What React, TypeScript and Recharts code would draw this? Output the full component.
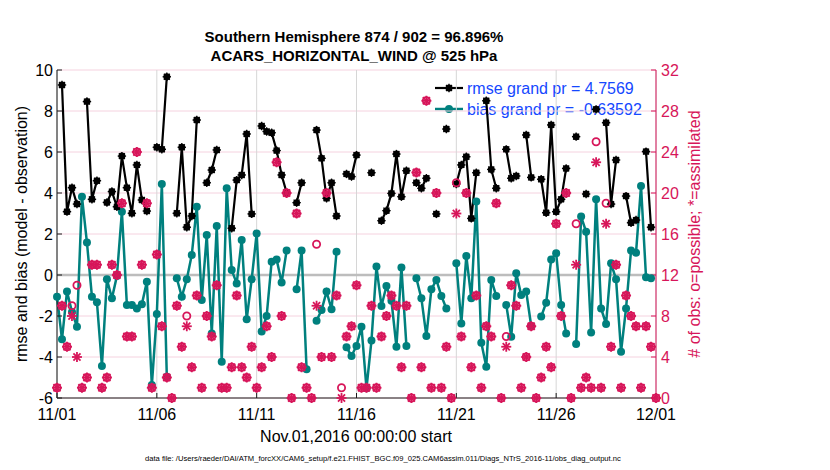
import { ComposedChart, Line, XAxis, YAxis, CartesianGrid, ReferenceLine } from "recharts"

// 6-hourly bins, Nov 01 00Z .. Dec 01 00Z (121 bins)
const dayTicks = [0, 5, 10, 15, 20, 25, 30]
const dayTickLabels = ["11/01", "11/06", "11/11", "11/16", "11/21", "11/26", "12/01"]
const leftTicks = [-6, -4, -2, 0, 2, 4, 6, 8, 10]
const rightTicks = [0, 4, 8, 12, 16, 20, 24, 28, 32]

const rmse: (number | null)[] = [
  null, 9.27, 3.09, 4.26, 3.46, null, 8.46, 3.69, 4.6, null,
  3.54, 4.07, 3.33, 5.8, 4.26, 3.01, 5.37, 3.66, 3.12, null,
  6.23, 6.13, 9.67, null, 3.01, 6.23, 2.33, 2.88, 7.56, null,
  4.5, 5.12, 6.1, null, null, 2.28, 4.63, 4.88, 6.88, 2.98,
  null, 7.27, 7.0, 6.94, 6.07, 4.88, 4.02, null, 3.53, 4.5,
  null, null, 7.07, 5.69, 3.74, 4.5, 2.88, null, 4.93, 4.8,
  5.85, null, null, 4.99, null, 2.65, 3.14, 3.98, 5.9, 3.82,
  5.09, null, 4.5, 4.23, 4.72, null, 2.98, null, 7.12, null,
  4.44, 5.37, 5.77, 2.76, 4.99, null, 8.5, 5.15, 4.23, null,
  6.13, 4.72, 4.83, null, 6.83, 4.76, null, 4.67, 3.04, 7.32,
  3.09, 3.69, 5.2, null, 6.75, null, 3.95, null, 8.08, null,
  7.43, 3.46, 5.61, null, 3.85, 2.55, 2.68, null, 6.02, 2.33,
  null,
]

const bias: (number | null)[] = [
  -1.06, -3.14, -0.81, -1.8, -2.52, 3.82, 1.58, -1.06, -1.33, -4.44,
  -0.21, -1.14, -0.05, 3.09, -1.46, -1.46, -1.63, -1.43, -0.33, -5.37,
  -1.9, 4.44, -4.96, null, -0.16, -1.06, -0.21, 0.98, 3.33, -1.22,
  1.95, -2.85, 2.39, -4.23, 4.23, 0.24, -0.41, 1.71, -2.16, -0.21,
  2.03, -2.76, -2.0, 0.65, 0.76, -0.37, 1.19, null, -0.7, 1.19,
  -4.6, null, -2.23, -1.71, -0.81, -1.67, 1.14, null, -3.53, -3.95,
  -3.46, -2.52, -5.53, -3.2, 0.41, -1.51, -0.54, -1.25, -3.5, 0.37,
  -3.46, null, -0.16, -1.14, -2.98, -0.7, -0.24, -1.02, -1.63, null,
  0.57, -2.36, 0.93, -1.14, 3.58, -3.3, -4.47, -0.24, -1.02, null,
  -1.46, -3.01, 0.08, -0.98, -0.81, -2.49, null, -2.03, -1.35, 0.76,
  1.06, -1.46, -2.85, null, -3.37, 2.85, 2.11, -2.81, 3.69, -1.63,
  -2.39, 0.57, -0.21, -3.74, -1.63, 1.19, 1.09, 4.34, -0.11, -0.16,
  null,
]

const nAssim = [
  1, 9, 5, 8, 4, 1, 2, 13, 13, 1,
  2, 13, 12, 19, 6, 6, 24, 13, 19, 1,
  14, 7, 2, 0, 9, 5, 7, 3, 10, 1,
  8, 6, 11, 1, 1, 3, 10, 3, 2, 5,
  1, 3, 7, 4, 23, 8, 20, 0, 18, 3,
  1, 0, 9, 4, 20, 4, 10, 0, 6, 7,
  11, 1, 1, 9, 1, 6, 8, 10, 9, 3,
  9, 0, 22, 3, 29, 1, 20, 1, 5, 0,
  18, 6, 20, 3, 10, 1, 7, 6, 19, 0,
  5, 11, 9, 1, 4, 7, 0, 2, 5, 3,
  17, 8, 20, 0, 13, 1, 2, 1, 23, 1,
  17, 5, 13, 1, 10, 8, 7, 1, 7, 5,
  0,
]

const nPossible = [
  1, 9, 5, 9, 11, 1, 2, 13, 13, 1,
  2, 13, 12, 19, 6, 6, 24, 13, 19, 1,
  14, 7, 2, 0, 9, 5, 8, 3, 10, 1,
  8, 6, 11, 1, 1, 3, 10, 3, 2, 5,
  1, 3, 7, 4, 23, 8, 20, 0, 18, 3,
  1, 0, 15, 4, 20, 4, 10, 1, 6, 7,
  11, 1, 1, 9, 1, 6, 8, 10, 9, 3,
  9, 0, 22, 3, 29, 1, 20, 1, 5, 0,
  21, 6, 20, 3, 10, 1, 7, 6, 19, 0,
  6, 11, 9, 1, 4, 7, 0, 2, 5, 3,
  17, 8, 20, 0, 17, 1, 2, 1, 25, 1,
  19, 5, 13, 1, 10, 8, 7, 1, 7, 5,
  0,
]

const data = rmse.map((_, i) => ({
  day: i / 4,
  rmse: rmse[i],
  bias: bias[i],
  assim: nAssim[i],
  possible: nPossible[i],
}))

const TEAL = "#00807e"
const CRIMSON = "#d7165a"
const BLUE = "#1548ff"
const AXIS = "#1a1a1a"
const FONT = "'Liberation Sans', Arial, Helvetica, sans-serif"

function arms(cx: number, cy: number, len: number, color: string, w: number) {
  const d = len * 0.7071
  return (
    <>
      <line x1={cx - len} y1={cy} x2={cx + len} y2={cy} stroke={color} strokeWidth={w} />
      <line x1={cx} y1={cy - len} x2={cx} y2={cy + len} stroke={color} strokeWidth={w} />
      <line x1={cx - d} y1={cy - d} x2={cx + d} y2={cy + d} stroke={color} strokeWidth={w} />
      <line x1={cx - d} y1={cy + d} x2={cx + d} y2={cy - d} stroke={color} strokeWidth={w} />
    </>
  )
}

const ok = (p: any) => p.value != null && p.cy != null && !Number.isNaN(p.cy)

const RmseDot = (p: any) => {
  if (!ok(p)) return <g key={p.index} />
  return (
    <g key={p.index}>
      <circle cx={p.cx} cy={p.cy} r={3.5} fill="#000" />
      {arms(p.cx, p.cy, 4.2, "#000", 1.3)}
    </g>
  )
}

const BiasDot = (p: any) => {
  if (!ok(p)) return <g key={p.index} />
  return <circle key={p.index} cx={p.cx} cy={p.cy} r={4} fill={TEAL} />
}

const PossibleDot = (p: any) => {
  if (!ok(p)) return <g key={p.index} />
  return <circle key={p.index} cx={p.cx} cy={p.cy} r={3.6} fill="none" stroke={CRIMSON} strokeWidth={1.8} />
}

const AssimDot = (p: any) => {
  if (!ok(p)) return <g key={p.index} />
  return <g key={p.index}>{arms(p.cx, p.cy, 5, CRIMSON, 1.8)}</g>
}

function Overlay() {
  return (
    <svg width={830} height={470} style={{ position: "absolute", left: 0, top: 0 }} fontFamily={FONT}>
      <text x={354} y={42} textAnchor="middle" fontSize={15} fontWeight="bold">
        Southern Hemisphere 874 / 902 = 96.896%
      </text>
      <text x={354} y={61} textAnchor="middle" fontSize={15} fontWeight="bold">
        ACARS_HORIZONTAL_WIND @ 525 hPa
      </text>
      <text x={21} y={234} transform="rotate(-90 21 234)" textAnchor="middle" dominantBaseline="central" fontSize={16}>
        rmse and bias (model - observation)
      </text>
      <text x={694} y={234} transform="rotate(-90 694 234)" textAnchor="middle" dominantBaseline="central" fontSize={16} fill={CRIMSON}>
        # of obs: o=possible; *=assimilated
      </text>
      <text x={356} y={442} textAnchor="middle" fontSize={16}>
        Nov.01,2016 00:00:00 start
      </text>
      <text x={145} y={461} fontSize={7.6}>
        data file: /Users/raeder/DAI/ATM_forcXX/CAM6_setup/f.e21.FHIST_BGC.f09_025.CAM6assim.011/Diags_NTrS_2016-11/obs_diag_output.nc
      </text>
      {/* legend */}
      <line x1={435} y1={88} x2={463} y2={88} stroke="#000" strokeWidth={2.2} />
      <circle cx={449} cy={88} r={3.5} fill="#000" />
      {arms(449, 88, 4.2, "#000", 1.3)}
      <text x={467} y={94} fontSize={16} fill={BLUE}>rmse grand pr = 4.7569</text>
      <line x1={435} y1={109} x2={463} y2={109} stroke={TEAL} strokeWidth={2.5} />
      <circle cx={449} cy={109} r={4} fill={TEAL} />
      <text x={467} y={115} fontSize={16} fill={BLUE}>bias grand pr = -0.63592</text>
    </svg>
  )
}

export default function App() {
  return (
    <div style={{ position: "absolute", left: 0, top: 0, width: 830, height: 470, fontFamily: FONT, background: "#fff" }}>
      <Overlay />
      <ComposedChart
        width={830}
        height={470}
        data={data}
        margin={{ top: 70, right: 124, bottom: 42, left: 12 }}
      >
        <CartesianGrid yAxisId="right" vertical={false} stroke="#f5d2df" strokeWidth={1} />
        <CartesianGrid yAxisId="left" horizontal={false} stroke="#d6d6d6" strokeWidth={1} />
        <XAxis
          type="number"
          dataKey="day"
          domain={[0, 30]}
          ticks={dayTicks}
          interval={0}
          tickFormatter={(v: number) => dayTickLabels[dayTicks.indexOf(v)]}
          height={30}
          stroke={AXIS}
          tickSize={-5}
          tickMargin={16}
          tick={{ fill: "#000", fontSize: 16 }}
        />
        <XAxis
          xAxisId="top"
          orientation="top"
          type="number"
          dataKey="day"
          domain={[0, 30]}
          ticks={dayTicks}
          interval={0}
          height={0}
          stroke={AXIS}
          tickSize={-5}
          tick={false}
        />
        <YAxis
          yAxisId="left"
          type="number"
          domain={[-6, 10]}
          ticks={leftTicks}
          interval={0}
          width={45}
          stroke={AXIS}
          tickSize={-5}
          tickMargin={9}
          tick={{ fill: "#000", fontSize: 16 }}
        />
        <YAxis
          yAxisId="right"
          orientation="right"
          type="number"
          domain={[0, 32]}
          ticks={rightTicks}
          interval={0}
          width={50}
          stroke={CRIMSON}
          tickSize={-5}
          tickMargin={10}
          tick={{ fill: CRIMSON, fontSize: 16 }}
        />
        <ReferenceLine yAxisId="left" y={0} stroke="#bdbdbd" strokeWidth={2.5} />
        <Line
          yAxisId="left"
          dataKey="bias"
          stroke={TEAL}
          strokeWidth={2.5}
          dot={BiasDot}
          activeDot={false}
          isAnimationActive={false}
        />
        <Line
          yAxisId="left"
          dataKey="rmse"
          stroke="#000"
          strokeWidth={2.2}
          dot={RmseDot}
          activeDot={false}
          isAnimationActive={false}
        />
        <Line
          yAxisId="right"
          dataKey="possible"
          stroke="none"
          dot={PossibleDot}
          activeDot={false}
          isAnimationActive={false}
        />
        <Line
          yAxisId="right"
          dataKey="assim"
          stroke="none"
          dot={AssimDot}
          activeDot={false}
          isAnimationActive={false}
        />
      </ComposedChart>
    </div>
  )
}
